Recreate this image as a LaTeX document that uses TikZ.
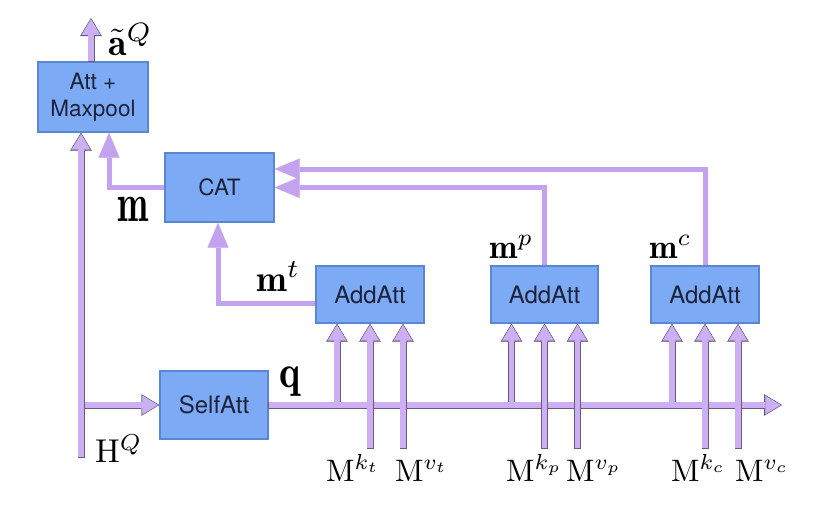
\documentclass[tikz,border=0pt]{standalone}
\usepackage{fontspec}
\setsansfont{TeX Gyre Heros}
\usepackage{graphicx}
\usetikzlibrary{arrows.meta}
\definecolor{lav}{HTML}{CDB0F3}
\definecolor{lavp}{HTML}{C3A2EF}
\definecolor{odark}{HTML}{6A5A7E}
\definecolor{bfill}{HTML}{7DAAF5}
\definecolor{bdr}{HTML}{5A86D2}
\definecolor{btxt}{HTML}{1C2238}
\newcommand{\mylab}[2]{\scalebox{#1}{$#2$}}
\begin{document}
\begin{tikzpicture}[x=1pt,y=-1pt,
  box/.style={draw=bdr, fill=bfill, line width=1.3pt, inner sep=0pt, align=center,
    text=btxt, font=\sffamily\fontsize{22.5}{27}\selectfont},
  bigtxt/.style={font=\sffamily\fontsize{24}{28}\selectfont},
  lbl/.style={inner sep=0pt, anchor=base west, font=\fontsize{10}{12}\selectfont},
  plain/.style={draw=lavp, line width=5pt, -{Triangle[width=21pt,length=25pt,line width=0.3pt]}},
  outl/.style={preaction={draw=odark, line width=7pt, shorten >=0pt, shorten <=-0.7pt,
      -{Triangle[width=21.5pt,length=18pt,line width=0.3pt]}},
    draw=lav, line width=5.4pt, shorten >=1.3pt,
    -{Triangle[width=18.5pt,length=15.6pt,line width=0.3pt]}},
]
\useasboundingbox (0,0) rectangle (832,523);

% boxes
\node[box, minimum width=110pt, minimum height=70pt] (att) at (93,97) {Att +\\Maxpool};
\node[box, minimum width=109pt, minimum height=69pt] (cat) at (219.5,187.5) {CAT};
\node[box, bigtxt, minimum width=108pt, minimum height=57pt] (addT) at (370,294.5) {AddAtt};
\node[box, bigtxt, minimum width=107pt, minimum height=57pt] (addP) at (544.5,294.5) {AddAtt};
\node[box, bigtxt, minimum width=108pt, minimum height=57pt] (addC) at (705,294.5) {AddAtt};
\node[box, bigtxt, minimum width=108pt, minimum height=68pt] (self) at (214,405) {SelfAtt};

% free ends
\coordinate (hq) at (81,457);
\coordinate (hb) at (81,405);
\coordinate (atop) at (91,18);
\coordinate (qend) at (782,405);
\foreach \n/\x in {t/370,p/544.5,c/705}{
  \coordinate (q1\n) at (\x-33,405);
  \coordinate (k\n) at (\x,448);
  \coordinate (v\n) at (\x+33,448);
}

% plain connectors
\draw[plain] (cat.west) -| ([xshift=16pt]att.south);
\draw[plain] ([yshift=-8.5pt]addT.west) -| ([xshift=-1.5pt]cat.south);
\draw[plain] (addP.north) |- (cat.east);
\draw[plain] (addC.north) |- ([yshift=18.5pt]cat.east);

% outlined connectors
\draw[outl] (hb) -- (self.west);
\draw[outl] (hq) -- (hq |- att.south);
\draw[outl] ([xshift=-2pt]att.north) -- (atop);
\foreach \n/\b in {t/addT,p/addP,c/addC}{
  \draw[outl] (q1\n) -- (q1\n |- \b.south);
}
\draw[outl] (self.east) -- (qend);
\foreach \n/\b in {t/addT,p/addP,c/addC}{
  \draw[outl] (k\n) -- (k\n |- \b.south);
  \draw[outl] (v\n) -- (v\n |- \b.south);
}

% labels
\node[lbl] (aq) at (108,55) {\mylab{3.8}{\tilde{\mathbf{a}}^{Q}}};
\node[lbl] (mlab) at (117,221) {\scalebox{3.75}[5.4]{$\mathbf{m}$}};
\node[lbl] (mt) at (256,291) {\mylab{3.7}{\mathbf{m}^{t}}};
\node[lbl] (mp) at (489,258) {\mylab{3.4}{\mathbf{m}^{p}}};
\node[lbl] (mc) at (649,258) {\mylab{3.4}{\mathbf{m}^{c}}};
\node[lbl] (ql) at (279,387) {\scalebox{4}[4.6]{$\mathbf{q}$}};
\node[lbl] (hl) at (95,462) {\mylab{3.3}{\mathrm{H}^{Q}}};
\node[lbl] (mkt) at (326,481) {\mylab{3.1}{\mathrm{M}^{k_t}}};
\node[lbl] (mvt) at (395,481) {\mylab{3.1}{\mathrm{M}^{v_t}}};
\node[lbl] (mkp) at (506,481) {\mylab{3.1}{\mathrm{M}^{k_p}}};
\node[lbl] (mvp) at (566,481) {\mylab{3.1}{\mathrm{M}^{v_p}}};
\node[lbl] (mkc) at (671,481) {\mylab{3.1}{\mathrm{M}^{k_c}}};
\node[lbl] (mvc) at (735,481) {\mylab{3.1}{\mathrm{M}^{v_c}}};
\end{tikzpicture}
\end{document}
